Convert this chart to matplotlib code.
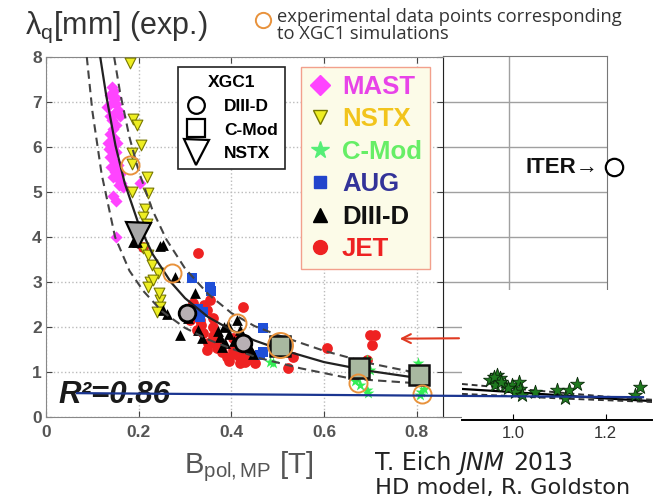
import matplotlib
matplotlib.use("Agg")
import matplotlib.pyplot as plt
from matplotlib.lines import Line2D

plt.rcParams['font.family'] = ['Liberation Sans', 'DejaVu Sans']
plt.rcParams['mathtext.fontset'] = 'custom'
plt.rcParams['mathtext.rm'] = 'Liberation Sans'
plt.rcParams['mathtext.it'] = 'Liberation Sans:italic'
plt.rcParams['mathtext.bf'] = 'Liberation Sans:bold'

# ---- data ----
mast_b = [0.142, 0.146, 0.150, 0.138, 0.145, 0.152, 0.156, 0.148, 0.160, 0.142, 0.150, 0.138,
          0.146, 0.134, 0.142, 0.150, 0.138, 0.146, 0.140, 0.148, 0.145, 0.155, 0.167, 0.158,
          0.145, 0.150, 0.152, 0.203, 0.136, 0.144, 0.153, 0.155, 0.160, 0.162, 0.137, 0.131]
mast_l = [7.34, 7.25, 7.10, 7.16, 7.00, 6.95, 6.82, 6.75, 6.70, 6.60, 6.50, 6.30,
          6.20, 6.08, 5.98, 5.90, 5.78, 5.70, 5.55, 5.45, 5.34, 5.30, 5.12, 5.15,
          4.90, 4.80, 4.00, 5.19, 5.95, 6.40, 6.10, 5.60, 5.40, 5.20, 6.70, 6.90]

nstx_b = [0.181, 0.188, 0.196, 0.206, 0.186, 0.185, 0.217, 0.221, 0.185, 0.214, 0.210, 0.217,
          0.210, 0.221, 0.228, 0.242, 0.224, 0.221, 0.246, 0.246, 0.239, 0.195, 0.205, 0.231, 0.243]
nstx_l = [7.86, 6.62, 6.49, 6.05, 5.86, 5.62, 5.34, 4.97, 5.00, 4.62, 4.45, 4.28,
          3.76, 3.60, 3.38, 3.19, 3.00, 2.90, 2.60, 2.45, 2.34, 4.15, 4.10, 3.05, 2.75]

cmod_b = [0.483, 0.490, 0.505, 0.512, 0.667, 0.677, 0.692, 0.699, 0.692, 0.684, 0.803, 0.810,
          0.813, 0.806, 0.695, 0.672, 0.690, 0.815]
cmod_l = [1.23, 1.20, 1.56, 1.50, 0.79, 0.71, 0.60, 1.04, 1.27, 1.20, 1.19, 0.56,
          0.98, 0.50, 0.53, 0.85, 0.95, 0.62]

aug_b = [0.314, 0.354, 0.357, 0.332, 0.339, 0.469, 0.462, 0.468, 0.327]
aug_l = [3.08, 2.88, 2.79, 2.23, 2.34, 1.97, 1.38, 1.44, 2.40]

d3d_b = [0.188, 0.196, 0.246, 0.252, 0.278, 0.321, 0.260, 0.252, 0.289, 0.329, 0.336, 0.383,
         0.375, 0.386, 0.379, 0.411, 0.419, 0.440, 0.447, 0.307, 0.395, 0.392, 0.372, 0.405]
d3d_l = [3.88, 3.90, 3.80, 3.82, 3.12, 2.75, 2.30, 2.38, 1.82, 1.93, 1.75, 2.00,
         1.78, 1.64, 1.56, 2.16, 1.93, 1.53, 1.41, 2.20, 1.85, 2.05, 1.92, 1.70]

jet_b = [0.329, 0.426, 0.354, 0.347, 0.361, 0.318, 0.311, 0.325, 0.354, 0.347, 0.368, 0.404,
         0.408, 0.419, 0.390, 0.433, 0.210, 0.321, 0.332, 0.339, 0.350, 0.404, 0.419, 0.429,
         0.533, 0.522, 0.606, 0.699, 0.710, 0.703, 0.692, 0.335, 0.360, 0.380, 0.395, 0.415,
         0.430, 0.445, 0.340, 0.310, 0.370, 0.450, 0.360]
jet_l = [3.64, 2.45, 2.60, 2.38, 2.00, 2.53, 2.16, 1.93, 1.64, 1.49, 1.53, 1.75,
         1.41, 1.19, 1.34, 1.27, 3.78, 2.33, 2.16, 1.87, 1.64, 1.49, 1.31, 1.22,
         1.33, 1.09, 1.53, 1.82, 1.82, 1.60, 1.27, 2.05, 1.80, 1.45, 1.25, 1.50,
         1.40, 1.35, 2.50, 2.40, 1.70, 1.20, 2.20]

# fit curve and error band
fit_b = [0.117, 0.13, 0.15, 0.17, 0.2, 0.23, 0.27, 0.3, 0.35, 0.4, 0.45, 0.5, 0.6, 0.7, 0.8]
fit_l = [8.0, 7.14, 6.03, 5.19, 4.28, 3.62, 2.99, 2.64, 2.22, 1.93, 1.70, 1.52, 1.22, 1.02, 0.87]
up_b = [0.147, 0.16, 0.18, 0.2, 0.23, 0.26, 0.3, 0.35, 0.4, 0.45, 0.5, 0.6, 0.7, 0.8]
up_l = [8.0, 7.2, 6.22, 5.46, 4.59, 3.94, 3.30, 2.73, 2.31, 2.02, 1.82, 1.47, 1.19, 0.98]
lo_b = [0.088, 0.10, 0.12, 0.149, 0.18, 0.21, 0.25, 0.3, 0.35, 0.4, 0.46, 0.55, 0.66, 0.8]
lo_l = [8.0, 6.8, 5.4, 4.0, 3.25, 2.8, 2.35, 1.98, 1.72, 1.52, 1.31, 1.08, 0.85, 0.75]

# XGC1 simulations
xgc_d3d_b = [0.304, 0.425]
xgc_d3d_l = [2.31, 1.64]
xgc_cmod_b = [0.505, 0.675, 0.805]
xgc_cmod_l = [1.58, 1.10, 0.93]
xgc_nstx_b = [0.198]
xgc_nstx_l = [4.05]

# experimental points matching the simulations
match_b = [0.181, 0.271, 0.413, 0.674, 0.811]
match_l = [5.60, 3.20, 2.10, 0.76, 0.52]
match_big_b = [0.505]
match_big_l = [1.60]

iter_b = [1.225]
iter_l = [5.55]

# blue reference line and arrow
blue_b = [0.067, 1.288]
blue_l = [0.53, 0.44]
arrow_from = (0.897, 1.75)
arrow_to = (0.757, 1.74)

# inset (high field data)
ins_b = [0.951, 0.965, 0.972, 0.962, 0.983, 0.997, 1.012, 1.015, 1.005, 1.019, 1.048, 1.095,
         1.113, 1.120, 1.138, 1.274, 1.264, 0.990, 0.958, 0.975]
ins_l = [0.89, 1.00, 0.93, 0.78, 0.78, 0.78, 0.85, 0.70, 0.63, 0.56, 0.63, 0.67,
         0.48, 0.67, 0.79, 0.74, 0.56, 0.71, 0.95, 0.85]
ins_fit_b = [0.89, 1.0, 1.1, 1.2, 1.3]
ins_fit_l = [0.69, 0.62, 0.55, 0.48, 0.42]
ins_up_l = [0.80, 0.70, 0.61, 0.52, 0.45]
ins_lo_l = [0.58, 0.53, 0.48, 0.44, 0.40]

W, H = 661, 499
fig = plt.figure(figsize=(W / 100, H / 100), dpi=100)

def px_rect(x0, y0, x1, y1):
    return [x0 / W, 1 - y1 / H, (x1 - x0) / W, (y1 - y0) / H]

ax = fig.add_axes(px_rect(46, 57, 443, 417), zorder=3)
axr = fig.add_axes(px_rect(443, 56, 607, 417), zorder=1)
axi = fig.add_axes(px_rect(462, 290, 652, 420), zorder=2)

# ---- main panel ----
ax.set_facecolor('white')
ax.set_xlim(0, 0.8565)
ax.set_ylim(0, 8)
ax.set_xticks([0, 0.2, 0.4, 0.6, 0.8])
ax.set_xticklabels(['0', '0.2', '0.4', '0.6', '0.8'])
ax.set_yticks(range(9))
ax.grid(True, ls=':', color='#bbbbbb', lw=1.0)
ax.tick_params(direction='in', length=4, top=True, right=True, labelsize=12.5,
               labelcolor='#555555', color='#444444')
ax.tick_params(axis='x', pad=6)
ax.tick_params(axis='y', pad=3)
for lab in ax.get_xticklabels() + ax.get_yticklabels():
    lab.set_fontweight('bold')
for s in ax.spines.values():
    s.set_color('#888888')
ax.spines['right'].set_color('#222222')

ax.scatter(mast_b, mast_l, marker='D', s=38, color='#ff44ff', lw=0, zorder=3)
ax.scatter(jet_b, jet_l, marker='o', s=60, color='#ee2222', lw=0, zorder=3)
ax.scatter(aug_b, aug_l, marker='s', s=45, color='#1f4fd8', lw=0, zorder=3)
ax.scatter(cmod_b, cmod_l, marker='*', s=80, color='#33ee55', lw=0, zorder=3)
ax.scatter(nstx_b, nstx_l, marker='v', s=60, facecolor='#eeee22', edgecolor='#777700', lw=0.8, zorder=4)
ax.scatter(d3d_b, d3d_l, marker='^', s=60, color='black', lw=0, zorder=4)

ax.plot(fit_b, fit_l, color='#222222', lw=1.6, zorder=5)
ax.plot(up_b, up_l, color='#444444', lw=1.5, ls=(0, (4, 2.5)), zorder=5)
ax.plot(lo_b, lo_l, color='#444444', lw=1.5, ls=(0, (4, 2.5)), zorder=5)

ax.plot(xgc_d3d_b, xgc_d3d_l, 'o', ms=12, mfc='#b8b0b4', mec='black', mew=2, zorder=6)
ax.plot(xgc_cmod_b, xgc_cmod_l, 's', ms=14, mfc='#a8b8a0', mec='#111111', mew=1.8, zorder=6)
ax.plot(xgc_nstx_b, xgc_nstx_l, 'v', ms=18, mfc='#a8a8a8', mec='black', mew=1.6, zorder=6)
ax.plot(match_b, match_l, 'o', ms=13, mfc='none', mec='#e8923c', mew=1.4, zorder=7)
ax.plot(match_big_b, match_big_l, 'o', ms=18, mfc='none', mec='#e8923c', mew=1.4, zorder=7)

ax.plot(blue_b, blue_l, color='#1a3590', lw=1.6, zorder=9, clip_on=False)
ax.annotate('', xy=arrow_to, xytext=arrow_from, annotation_clip=False, zorder=9,
            arrowprops=dict(arrowstyle='->', color='#e03a22', lw=1.5, mutation_scale=16))
ax.text(0.026, 0.31, 'R²=0.86', fontsize=22.5, fontweight='bold', style='italic',
        color='#1a1a1a', zorder=8)

# XGC1 legend
xgc_handles = [
    Line2D([], [], ls='', marker='o', ms=12, mfc='white', mec='black', mew=1.6),
    Line2D([], [], ls='', marker='s', ms=13, mfc='white', mec='black', mew=1.6),
    Line2D([], [], ls='', marker='v', ms=18, mfc='white', mec='black', mew=1.6),
]
leg1 = ax.legend(xgc_handles, ['DIII-D', 'C-Mod', 'NSTX'], title='XGC1', loc='upper left',
                 bbox_to_anchor=(0.332, 0.972), borderaxespad=0, fancybox=False,
                 edgecolor='#222222', framealpha=1, prop={'weight': 'bold', 'size': 12.5},
                 labelspacing=0.5, handletextpad=1.0, borderpad=0.45, handlelength=1.2,
                 title_fontproperties={'weight': 'bold', 'size': 12.5})
leg1.get_frame().set_linewidth(1.2)
leg1.set_zorder(10)
ax.add_artist(leg1)

dev_handles = [
    Line2D([], [], ls='', marker='D', ms=10, color='#ff44ff'),
    Line2D([], [], ls='', marker='v', ms=10, mfc='#eeee22', mec='#777700'),
    Line2D([], [], ls='', marker='*', ms=13, color='#55ee77'),
    Line2D([], [], ls='', marker='s', ms=8, color='#2244cc'),
    Line2D([], [], ls='', marker='^', ms=10, color='black'),
    Line2D([], [], ls='', marker='o', ms=10, color='#ee2222'),
]
dev_colors = ['#e844e8', '#f2c41c', '#66ee66', '#333399', '#111111', '#ee2222']
leg2 = ax.legend(dev_handles, ['MAST', 'NSTX', 'C-Mod', 'AUG', 'DIII-D', 'JET'],
                 loc='upper left', bbox_to_anchor=(0.642, 0.972), borderaxespad=0,
                 fancybox=False, facecolor='#fcfbe8', edgecolor='#f2a08c', framealpha=1,
                 prop={'weight': 'bold', 'size': 18.5}, labelcolor=dev_colors,
                 labelspacing=0.33, handletextpad=0.4, borderpad=0.3, handlelength=0.9)
leg2.set_zorder(10)

# ---- right extension panel (ITER) ----
axr.set_facecolor('none')
axr.set_xlim(0.8565, 1.2105)
axr.set_ylim(0, 8.02)
axr.set_xticks([1.0])
axr.set_yticks(range(1, 8))
axr.grid(True, color='#a0a0a0', lw=1.0)
axr.tick_params(length=0, labelbottom=False, labelleft=False)
for s in axr.spines.values():
    s.set_color('#777777')
axr.plot(iter_b, iter_l, 'o', ms=12.5, mfc='white', mec='black', mew=1.6, clip_on=False, zorder=5)
axr.annotate('ITER\u2192', xy=(iter_b[0], iter_l[0]), xytext=(-11, 0),
             textcoords='offset points', ha='right', va='center', annotation_clip=False,
             fontsize=16, fontweight='bold', color='#111111', zorder=5)

# ---- inset ----
axi.set_facecolor('white')
axi.set_xlim(0.89, 1.30)
axi.set_ylim(0, 130 / 45)
for k in ['top', 'left', 'right']:
    axi.spines[k].set_visible(False)
axi.spines['bottom'].set_linewidth(1.4)
axi.set_xticks([1.0, 1.2])
axi.set_xticklabels(['1.0', '1.2'])
axi.set_yticks([])
axi.tick_params(axis='x', direction='in', length=4, labelsize=12, labelcolor='#333333', pad=4)
axi.plot(ins_fit_b, ins_fit_l, color='black', lw=1.6)
axi.plot(ins_fit_b, ins_up_l, color='#333333', lw=1.4, ls=(0, (3, 2)))
axi.plot(ins_fit_b, ins_lo_l, color='#333333', lw=1.4, ls=(0, (3, 2)))
axi.scatter(ins_b, ins_l, marker='*', s=110, facecolor='#1f7a1f', edgecolor='#0a2a0a', lw=0.6, zorder=3)

# ---- texts ----
fig.text(25 / W, 1 - 34 / H, r'λ$_\mathrm{q}$[mm] (exp.)', fontsize=22, color='#333333')
fig.text(249 / W, 1 - 467 / H, r'B$_\mathrm{pol,MP}$ [T]', fontsize=21, color='#555555',
         ha='center', va='center')

fig.lines.append(Line2D([263 / W], [1 - 20 / H], transform=fig.transFigure, marker='o', ms=11,
                        mfc='none', mec='#e8923c', mew=1.4))
fig.text(277 / W, 1 - 8 / H, 'experimental data points corresponding\nto XGC1 simulations',
         fontsize=13.2, color='#333333', family='Open Sans', va='top', linespacing=0.95)

t1 = fig.text(375 / W, 1 - 470 / H, 'T. Eich', fontsize=17, color='#222222', family='DejaVu Sans')
t2 = ax.annotate('JNM', xy=(1, 0), xycoords=t1, xytext=(6, 0), textcoords='offset points',
                 va='bottom', fontsize=17, style='italic', color='#222222', family='DejaVu Sans',
                 annotation_clip=False)
ax.annotate('2013', xy=(1, 0), xycoords=t2, xytext=(6, 0), textcoords='offset points',
            va='bottom', fontsize=17, color='#222222', family='DejaVu Sans', annotation_clip=False)
fig.text(375 / W, 1 - 494 / H, 'HD model, R. Goldston', fontsize=16.2, color='#222222',
         family='DejaVu Sans')

fig.savefig('out.png', dpi=100)
